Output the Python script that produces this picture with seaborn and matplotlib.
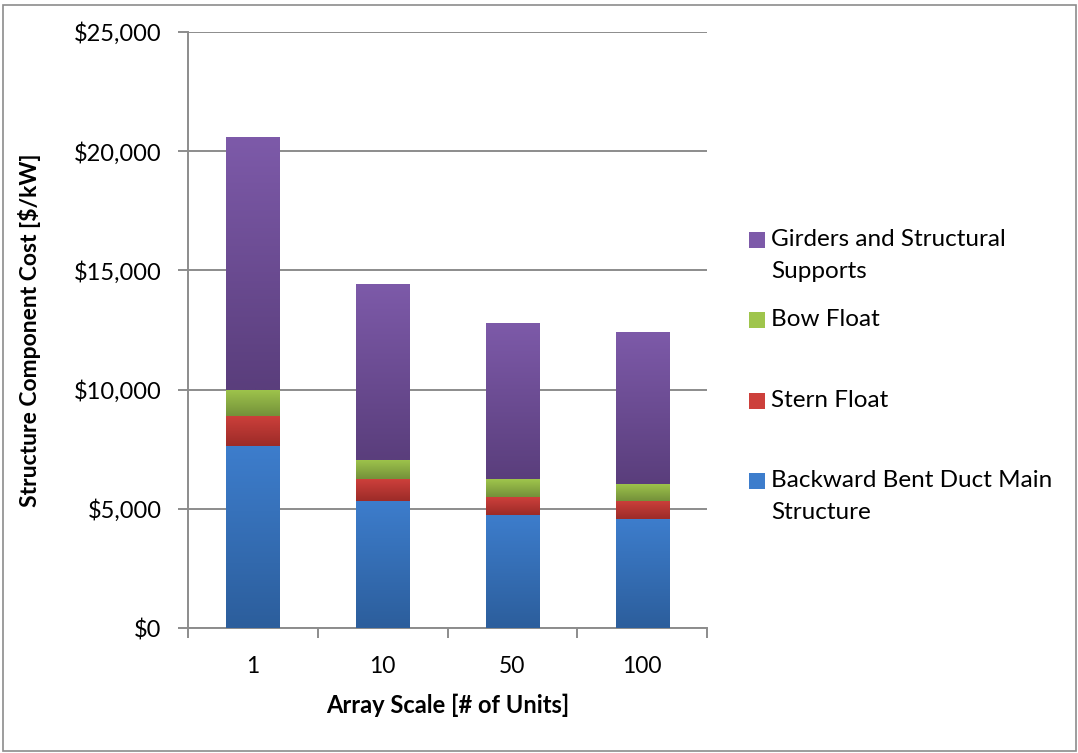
import numpy as np
import pandas as pd
import matplotlib
matplotlib.use("Agg")
import matplotlib.pyplot as plt
import seaborn as sns
from matplotlib.patches import Rectangle
from matplotlib.ticker import FuncFormatter, FixedLocator

# Array scale categories and structure cost components [$/kW]
scales = ["1", "10", "50", "100"]
main_structure = [7620, 5330, 4760, 4560]
stern_float = [1260, 900, 740, 760]
bow_float = [1120, 810, 730, 720]
girders = [10600, 7390, 6570, 6380]

components = ["Backward Bent Duct Main\nStructure", "Stern Float", "Bow Float",
              "Girders and Structural\nSupports"]
yticks = [0, 5000, 10000, 15000, 20000, 25000]

# (top colour, bottom colour) for each component's vertical gradient
shades = [("#3d7dcc", "#2c5e9c"),
          ("#cd403b", "#9c2b28"),
          ("#9fc54c", "#74913a"),
          ("#7d5aa9", "#5a3e7c")]

df = pd.DataFrame({"scale": scales,
                   components[0]: main_structure,
                   components[1]: stern_float,
                   components[2]: bow_float,
                   components[3]: girders})
cum = df[components].cumsum(axis=1)
base = cum.shift(1, axis=1).fillna(0)

sns.set_theme(style="white")
plt.rcParams["font.family"] = ["Lato", "DejaVu Sans"]

W, H = 1078, 753
fig = plt.figure(figsize=(W / 100, H / 100), dpi=100)
ax = fig.add_axes([188 / W, 1 - 628 / H, (707 - 188) / W, (628 - 32) / H])


def gradient(top, bottom, n=64):
    c0 = np.array(matplotlib.colors.to_rgba(bottom))
    c1 = np.array(matplotlib.colors.to_rgba(top))
    t = np.linspace(0, 1, n)[:, None]
    return (c0 * (1 - t) + c1 * t)[:, None, :]


# Stacked bars: draw cumulative totals from the top layer down,
# so each lower segment sits over the one above it.
for k in range(len(components) - 1, -1, -1):
    comp = components[k]
    n_before = len(ax.patches)
    sns.barplot(x=df["scale"], y=cum[comp], order=scales, color=shades[k][1],
                saturation=1, width=0.41, ax=ax, zorder=3 + (3 - k) * 2)
    bars = ax.patches[n_before:]
    img = gradient(*shades[k])
    for bar, lo, hi in zip(bars, base[comp], cum[comp]):
        x0 = bar.get_x()
        x1 = x0 + bar.get_width()
        bar.set_edgecolor("none")
        im = ax.imshow(img, extent=[x0, x1, lo, hi], origin="lower",
                       aspect="auto", zorder=bar.get_zorder() + 0.5,
                       interpolation="bilinear")
        im.set_clip_path(bar)

ax.set_xlim(-0.5, len(scales) - 0.5)
ax.set_ylim(0, 25000)

# y axis: dollar ticks, gridlines
ax.yaxis.set_major_locator(FixedLocator(yticks))
ax.yaxis.set_major_formatter(FuncFormatter(lambda v, p: f"${v:,.0f}"))
ax.yaxis.grid(True, color="#8c8c8c", lw=1.4, zorder=0)
ax.set_axisbelow(True)

# x axis: labels centred, tick marks between categories
ax.set_xticks(range(len(scales)))
ax.set_xticklabels(scales)
ax.set_xticks(np.arange(-0.5, len(scales), 1.0), minor=True)
ax.tick_params(axis="x", which="major", length=0, pad=20, labelsize=16.5,
               labelcolor="#000000")
ax.tick_params(axis="x", which="minor", length=7, width=1.4, color="#8c8c8c",
               direction="out", bottom=True)
ax.tick_params(axis="y", which="major", length=7, width=1.4, color="#8c8c8c",
               direction="out", left=True, pad=12, labelsize=17,
               labelcolor="#000000")

for side in ("top", "right"):
    ax.spines[side].set_visible(False)
for side in ("left", "bottom"):
    ax.spines[side].set_color("#8c8c8c")
    ax.spines[side].set_linewidth(1.4)

ax.set_xlabel("Array Scale [# of Units]", fontsize=17, fontweight="bold",
              labelpad=12, color="#000000")
ax.set_ylabel("Structure Component Cost [$/kW]", fontsize=16.5,
              fontweight="bold", labelpad=24, color="#000000")

# Legend, listed top component first
legend_rows = [(components[3], shades[3], 240),
               (components[2], shades[2], 320),
               (components[1], shades[1], 401),
               (components[0], shades[0], 481)]
for label, (top, bottom), ypix in legend_rows:
    sq = 16
    fig.add_artist(Rectangle((749 / W, 1 - (ypix + sq / 2) / H), sq / W, sq / H,
                             transform=fig.transFigure,
                             facecolor=top, edgecolor="none"))
    fig.text(771 / W, 1 - (ypix - 11) / H, label, fontsize=17.5,
             va="top", ha="left", linespacing=1.65, color="#000000")

# Chart border
fig.add_artist(Rectangle((3 / W, 2 / H), (1076 - 3) / W, (751 - 5) / H,
                         transform=fig.transFigure, facecolor="none",
                         edgecolor="#8c8c8c", lw=1.2))

fig.savefig("out.png", dpi=100)
